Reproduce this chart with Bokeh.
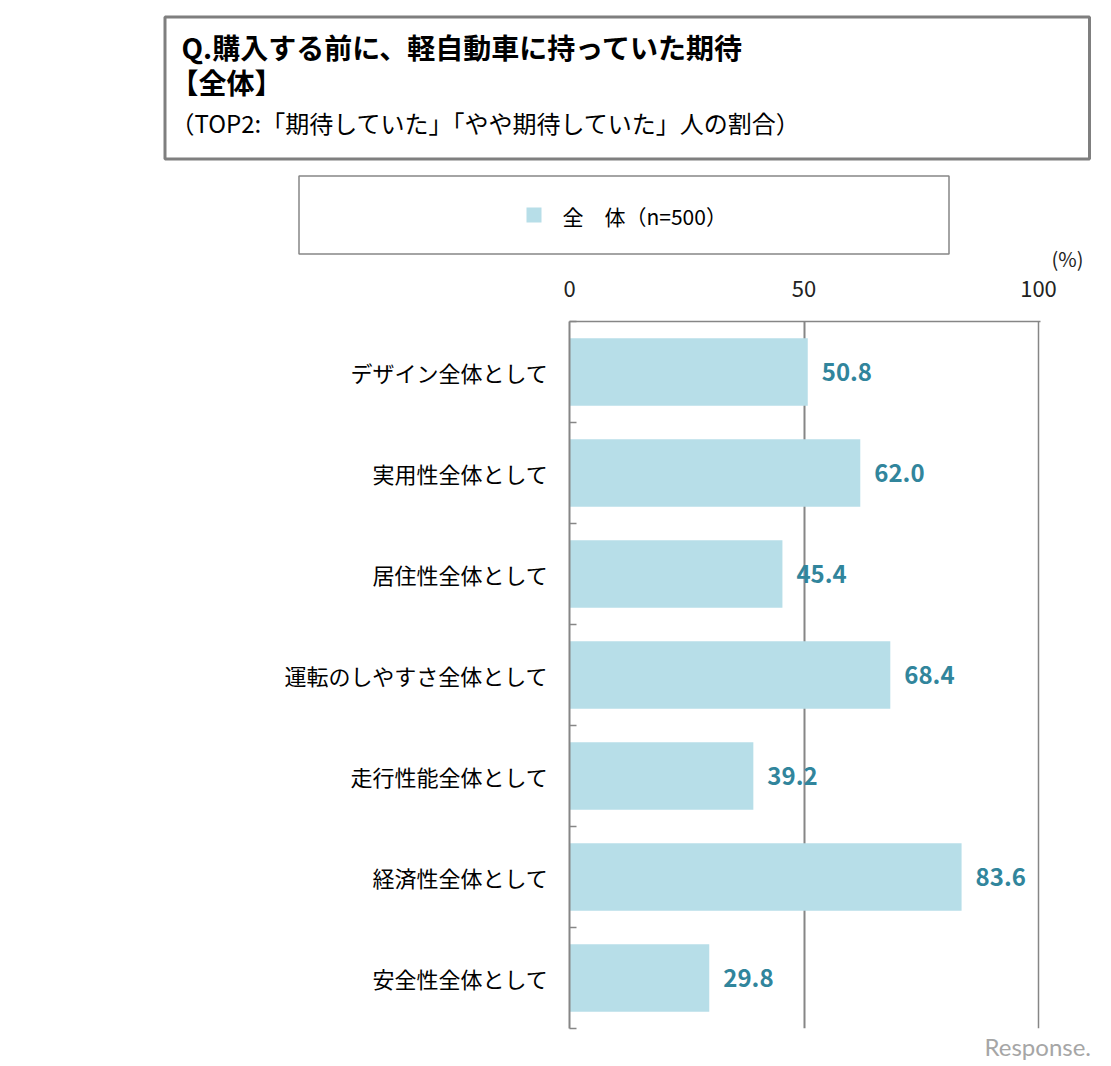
from bokeh.plotting import figure
from bokeh.models import Range1d, FixedTicker, Grid, ColumnDataSource
from bokeh.core.properties import value
from bokeh.embed import file_html
from bokeh.resources import INLINE

# ---------------- data ----------------
categories = ["デザイン全体として", "実用性全体として", "居住性全体として",
              "運転のしやすさ全体として", "走行性能全体として", "経済性全体として",
              "安全性全体として"]
values = [50.8, 62.0, 45.4, 68.4, 39.2, 83.6, 29.8]
x_ticks = [0, 50, 100]
title_line1 = "Q.購入する前に、軽自動車に持っていた期待"
title_line2 = "【全体】"
title_line3 = "（TOP2:「期待していた」「やや期待していた」人の割合）"
legend_label = "全　体（n=500）"
unit_label = "(%)"
watermark = "Response."

# ---------------- style ----------------
JP = "Noto Sans CJK JP"
BAR = "#B7DEE8"
VAL = "#31859C"
GRAY = "#868686"
W = 1105
TOP_H = 272
BORDER_TOP = 49
FRAME_H = 707
BOT_H = BORDER_TOP + FRAME_H + 5
WM_H = 30
FRAME_LEFT = 569
FRAME_RIGHT = 1040
PX_PER_UNIT = 4.69


def blank(height):
    f = figure(width=W, height=height, x_range=Range1d(0, W),
               y_range=Range1d(height, 0), output_backend="svg",
               toolbar_location=None, min_border=0,
               x_axis_location=None, y_axis_location=None,
               outline_line_color=None)
    f.grid.visible = False
    return f


# ---------------- header (title + legend boxes) ----------------
head = blank(TOP_H)
head.quad(left=[164.5], right=[1089], top=[16.5], bottom=[158.5],
          fill_color=None, line_color="#7F7F7F", line_width=3)
head.quad(left=[298.5], right=[948.5], top=[175.5], bottom=[253.5],
          fill_color=None, line_color=GRAY, line_width=1.5)

head.text(x=[181], y=[46], text=[title_line1], text_font=value(JP),
          text_font_size="28px", text_font_style="bold",
          text_baseline="middle", text_color="#000000")
head.text(x=[170], y=[81], text=[title_line2], text_font=value(JP),
          text_font_size="28px", text_font_style="bold",
          text_baseline="middle", text_color="#000000")
head.text(x=[170], y=[122], text=[title_line3], text_font=value(JP),
          text_font_size="24px", text_baseline="middle", text_color="#000000")

head.scatter(x=[533.5], y=[214.5], marker="square", size=15,
             fill_color=BAR, line_color=None)
head.text(x=[562], y=[215], text=[legend_label], text_font=value(JP),
          text_font_size="21px", text_baseline="middle", text_color="#000000")
head.text(x=[1051], y=[258], text=[unit_label], text_font=value(JP),
          text_font_size="20px", text_baseline="middle", text_color="#222222")

# ---------------- chart ----------------
n = len(categories)
positions = list(range(1, n + 1))
boundaries = [i + 0.5 for i in range(0, n + 1)]
x_end = (FRAME_RIGHT - FRAME_LEFT) / PX_PER_UNIT

p = figure(width=W, height=BOT_H, x_range=Range1d(0, x_end),
           y_range=Range1d(n + 0.5, 0.5), x_axis_location="above",
           output_backend="svg", toolbar_location=None,
           min_border_left=FRAME_LEFT, min_border_right=W - FRAME_RIGHT,
           min_border_top=BORDER_TOP, min_border_bottom=BOT_H - BORDER_TOP - FRAME_H,
           outline_line_color=None)

src = ColumnDataSource(dict(y=positions, val=values, cat=categories,
                            lbl=[f"{v:.1f}" for v in values]))

p.hbar(y="y", left=0, right="val", height=0.67, source=src,
       fill_color=BAR, line_color=None)
p.text(x="val", y="y", text="lbl", source=src, x_offset=14,
       text_baseline="middle", text_align="left", text_font=value(JP),
       text_font_size="24px", text_font_style="bold", text_color=VAL)

# x axis (top)
xa = p.xaxis[0]
xa.ticker = FixedTicker(ticks=x_ticks)
xa.major_tick_in = 0
xa.major_tick_out = 0
xa.minor_tick_in = 0
xa.minor_tick_out = 0
xa.axis_line_color = GRAY
xa.axis_line_width = 1.5
xa.major_label_text_font = JP
xa.major_label_text_font_size = "22px"
xa.major_label_text_color = "#222222"
xa.major_label_standoff = 25

# y axis (categories)
ya = p.yaxis[0]
ya.ticker = FixedTicker(ticks=positions, minor_ticks=boundaries)
ya.major_label_overrides = {pos: cat for pos, cat in zip(positions, categories)}
ya.major_tick_in = 0
ya.major_tick_out = 0
ya.minor_tick_in = 7
ya.minor_tick_out = 0
ya.minor_tick_line_color = GRAY
ya.minor_tick_line_width = 1.5
ya.axis_line_color = GRAY
ya.axis_line_width = 2
ya.major_label_text_font = JP
ya.major_label_text_font_size = "22px"
ya.major_label_text_color = "#000000"
ya.major_label_standoff = 21

# grid lines at 50 and 100
p.ygrid.visible = False
p.xgrid.ticker = FixedTicker(ticks=[50])
p.xgrid.grid_line_color = GRAY
p.xgrid.grid_line_width = 2
g100 = Grid(dimension=0, ticker=FixedTicker(ticks=[100]),
            grid_line_color=GRAY, grid_line_width=1.5)
p.add_layout(g100)

# ---------------- watermark strip ----------------
wm = blank(WM_H)
wm.text(x=[984], y=[13], text=[watermark], text_font=value("Lato"),
        text_font_size="24px", text_baseline="middle", text_color="#A6A6A6")

open("out.html", "w").write(file_html([head, p, wm], INLINE))
